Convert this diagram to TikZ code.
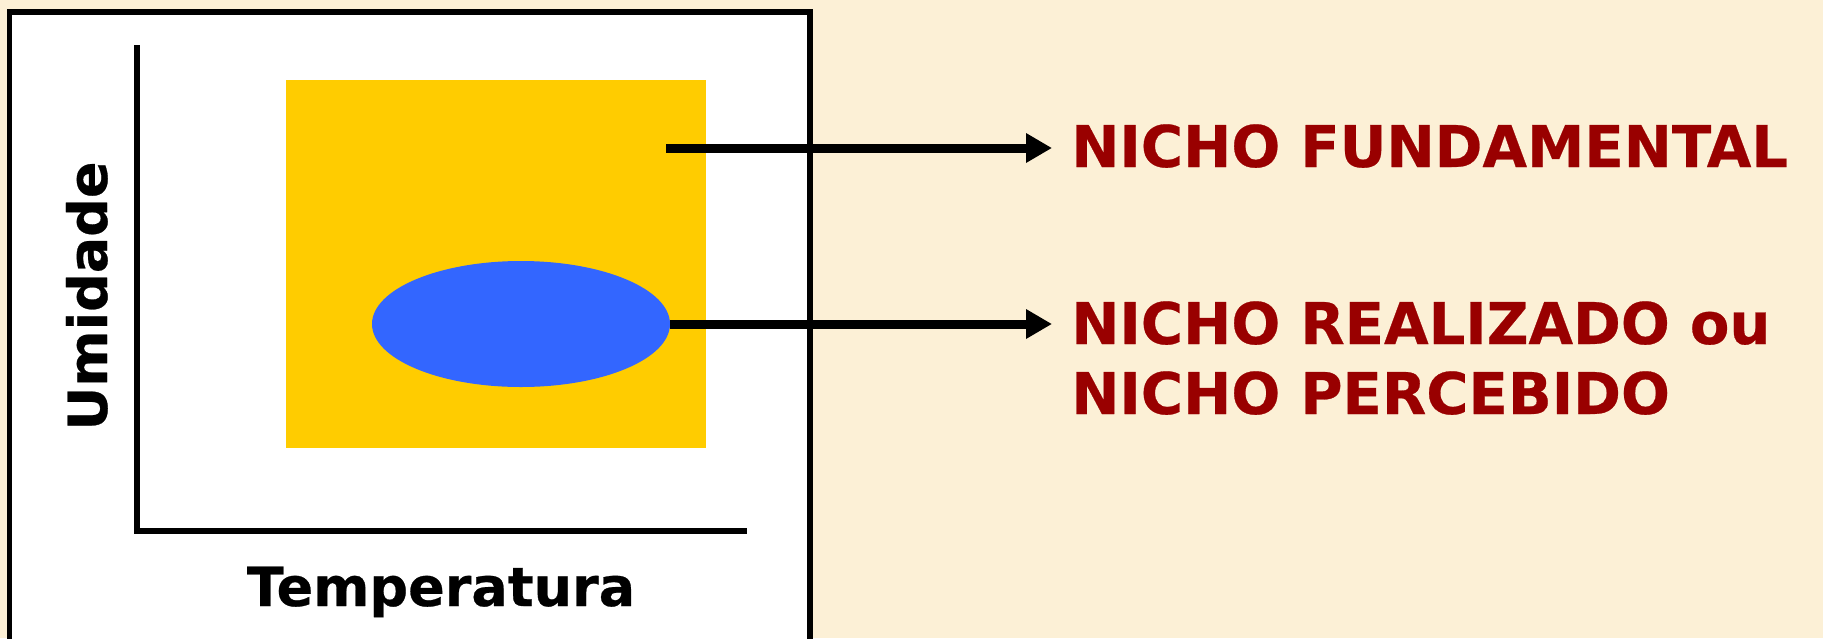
\documentclass[tikz,border=0pt]{standalone}
\usepackage{fontspec}
\setmainfont{DejaVu Sans}[BoldFeatures={FakeBold=0.45}]
\usetikzlibrary{arrows.meta,shapes.geometric}
\definecolor{bgcream}{RGB}{252,240,214}
\definecolor{niyellow}{RGB}{255,204,0}
\definecolor{niblue}{RGB}{51,102,255}
\definecolor{nired}{RGB}{153,0,0}
\tikzset{
  arr/.style={line width=9pt, -{Triangle[length=26pt,width=28pt]}},
  biglabel/.style={text=nired, font=\fontsize{57.6pt}{70pt}\selectfont\bfseries, inner sep=0pt, align=left},
  axlabel/.style={text=black, font=\fontsize{54pt}{60pt}\selectfont\bfseries, inner sep=0pt}
}
\begin{document}
\begin{tikzpicture}[x=1pt,y=-1pt]
\useasboundingbox (0,0) rectangle (1823,638);
\fill[bgcream] (0,0) rectangle (1823,638);
\draw[line width=5.5pt, fill=white] (9.5,12) rectangle (810,660);
\node[fill=niyellow, minimum width=420pt, minimum height=368pt, inner sep=0pt, anchor=north west] (fund) at (286,80) {};
\node[ellipse, fill=niblue, minimum width=298pt, minimum height=126pt, inner sep=0pt] (real) at (521,324) {};
\coordinate (ytop) at (137,45);
\coordinate (orig) at (137,531);
\coordinate (xend) at (747,531);
\draw[line width=6pt] (ytop) -- (orig) -- (xend);
\node[axlabel, rotate=90, anchor=base] (ylab) at (107,296) {Umidade};
\node[axlabel, anchor=base] (xlab) at (441,606) {Temperatura};
\node[biglabel, anchor=base west] (t1) at (1071,167) {NICHO FUNDAMENTAL};
\node[biglabel, anchor=base west] (t2) at (1071,414) {NICHO REALIZADO ou\\NICHO PERCEBIDO};
\coordinate (a1) at (666,148);
\draw[arr] (a1) -- ([xshift=-19pt]t1.west |- a1);
\draw[arr] (real.east) -- ([xshift=-19pt]t1.west |- real.east);
\end{tikzpicture}
\end{document}
